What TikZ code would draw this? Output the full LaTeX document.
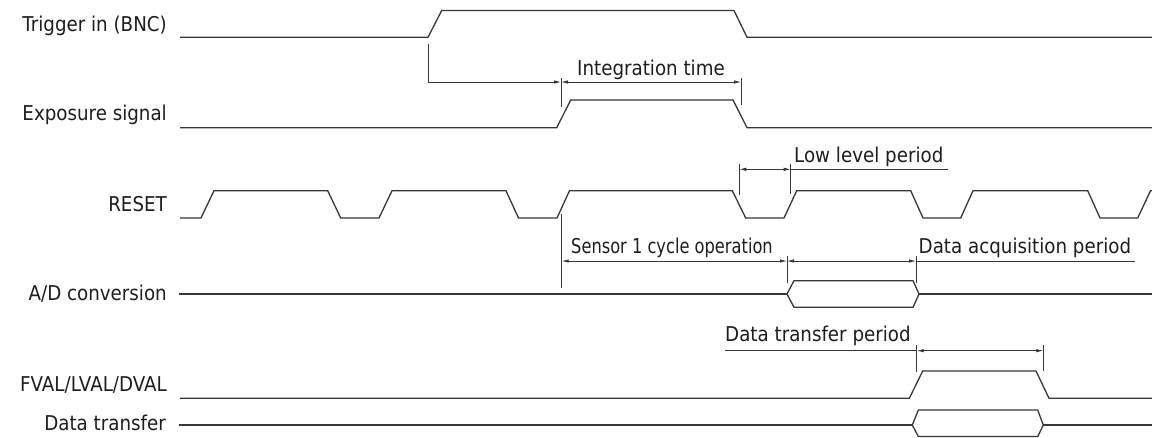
\documentclass[tikz,border=0pt]{standalone}
\usepackage{fontspec}
\setmainfont{DejaVu Sans}[FakeStretch=0.895]
\usetikzlibrary{arrows.meta}
\definecolor{sig}{RGB}{55,55,55}
\definecolor{txt}{RGB}{30,30,30}
\begin{document}
\begin{tikzpicture}[x=1pt,y=-1pt,
  lab/.style={inner sep=0pt,text=txt,font=\fontsize{20.4}{24}\selectfont},
  wave/.style={draw=sig,line width=1.3pt,line join=miter},
  dim/.style={draw=sig,line width=0.8pt},
  dimarr/.style={dim,{Latex[length=7pt,width=3.5pt]}-{Latex[length=7pt,width=3.5pt]}},
  rarr/.style={dim,-{Latex[length=7pt,width=3.5pt]}}]
\useasboundingbox[fill=white] (0,0) rectangle (1152,437);

% ---- signal labels
\node[lab,anchor=base east] (lTrig) at (167,31.7) {Trigger in (BNC)};
\node[lab,anchor=base east] (lExp)  at (167,120.7) {Exposure signal};
\node[lab,anchor=base east] (lRes)  at (167,211.7) {RESET};
\node[lab,anchor=base east] (lAD)   at (167,300.7) {A/D conversion};
\node[lab,anchor=base east] (lFV)   at (167,391.7) {FVAL/LVAL/DVAL};
\node[lab,anchor=base east] (lDT)   at (166,430) {Data transfer};

% ---- Trigger in
\draw[wave] (180,37.3) -- (428,37.3) -- (441.7,10.5) -- (734,10.5) -- (747,37.3) -- (1152,37.3);

% ---- Exposure signal
\draw[wave] (180,127.7) -- (556.7,127.7) -- (570.7,100) -- (733,100) -- (747,127.7) -- (1152,127.7);

% ---- RESET
\draw[wave] (180,218) -- (201,218) -- (214,190.7) -- (327.7,190.7) -- (340.7,218)
  -- (379,218) -- (392,190.7) -- (506,190.7) -- (518.5,218)
  -- (557,218) -- (569.5,190.7) -- (732.3,190.7) -- (745.7,218)
  -- (784,218) -- (796.7,190.7) -- (910.7,190.7) -- (923,218)
  -- (960.7,218) -- (973,190.7) -- (1087.7,190.7) -- (1100,218)
  -- (1137.7,218) -- (1150.5,190.7) -- (1152,190.7);

% ---- A/D conversion
\draw[wave] (179,294) -- (787,294);
\draw[wave] (787,294) -- (794,280.7) -- (913,280.7) -- (919,294) -- (913,307.3) -- (794,307.3) -- cycle;
\draw[wave] (919,294) -- (1152,294);

% ---- FVAL/LVAL/DVAL
\draw[wave] (180,398.3) -- (909.3,398.3) -- (922.7,371) -- (1036,371) -- (1049,398.3) -- (1152,398.3);

% ---- Data transfer
\draw[wave] (179,425) -- (912.3,425);
\draw[wave] (912.3,425) -- (918.3,410) -- (1037.7,410) -- (1043.3,425) -- (1037.7,436.5) -- (918.3,436.5) -- cycle;
\draw[wave] (1043.3,425) -- (1152,425);

% ---- trigger delay + integration time
\coordinate (td0) at (428,82);
\coordinate (it0) at (561,82);
\coordinate (it1) at (741,82);
\draw[dim] (428,44) -- (td0);
\draw[rarr] (td0) -- (it0);
\draw[dim] (561,78) -- (561,107);
\draw[dim] (741,78) -- (741,105);
\draw[dimarr] (it0) -- (it1);
\node[lab,anchor=base] (tInt) at (651,75) {Integration time};

% ---- low level period
\coordinate (ll0) at (739.3,169.3);
\coordinate (ll1) at (790.7,169.3);
\coordinate (ll2) at (948,169.3);
\draw[dim] (739.3,164) -- (739.3,195);
\draw[dim] (790.7,164) -- (790.7,194);
\draw[dimarr] (ll0) -- (ll1);
\draw[dim] (ll1) -- (ll2);
\node[lab,anchor=base west] (tLow) at (794,162.7) {Low level period};

% ---- sensor 1 cycle / data acquisition
\coordinate (sc0) at (561.7,261);
\coordinate (sc1) at (787,261);
\coordinate (da1) at (916,261);
\coordinate (da2) at (1135,261);
\draw[dim] (561.7,214) -- (561.7,288);
\draw[dim] (787,256) -- (787,283);
\draw[dim] (916,256) -- (916,283);
\draw[dimarr] (sc0) -- (sc1);
\draw[dimarr] (sc1) -- (da1);
\draw[dim] (da1) -- (da2);
\node[lab,anchor=base west] (tSen) at (571,253) {\scalebox{0.89}[1]{Sensor 1 cycle operation}};
\node[lab,anchor=base west] (tAcq) at (918.5,253) {Data acquisition period};

% ---- data transfer period
\coordinate (dt0) at (725,350.7);
\coordinate (dt1) at (916.7,350.7);
\coordinate (dt2) at (1043.3,350.7);
\draw[dim] (916.7,345) -- (916.7,371.7);
\draw[dim] (1043.3,345) -- (1043.3,371);
\draw[dim] (dt0) -- (dt1);
\draw[dimarr] (dt1) -- (dt2);
\node[lab,anchor=base west] (tDtp) at (725,341.7) {Data transfer period};
\end{tikzpicture}
\end{document}
